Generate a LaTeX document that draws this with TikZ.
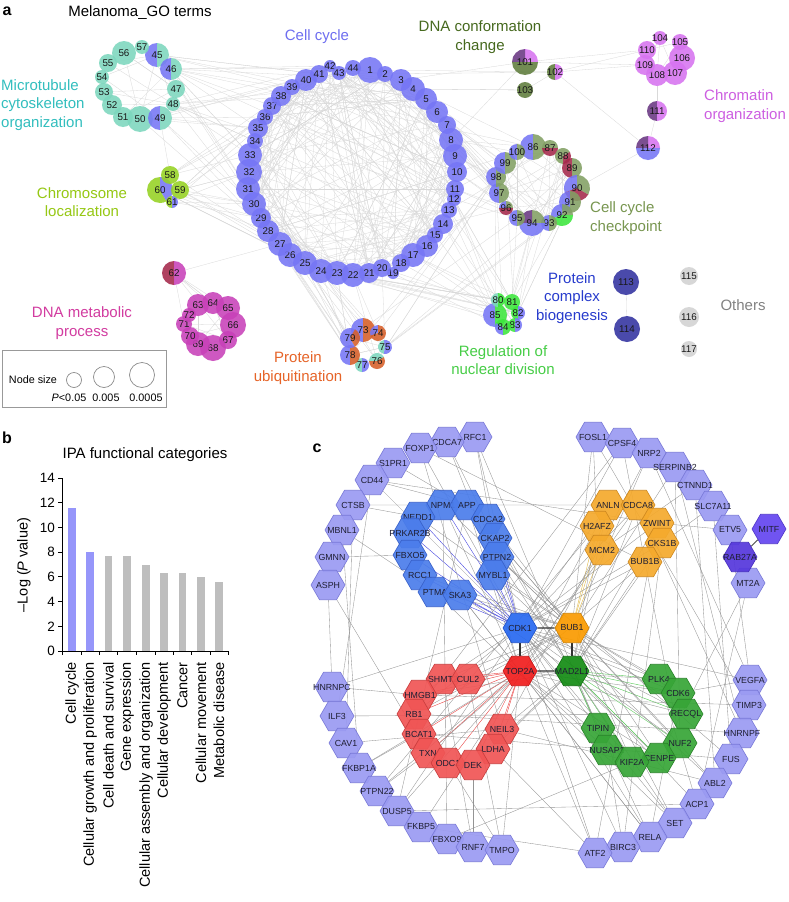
\documentclass[tikz,border=0pt]{standalone}
\usepackage{fontspec}
\setmainfont{Liberation Sans}
\usetikzlibrary{shapes.geometric}
\pgfdeclarelayer{bgw}
\pgfdeclarelayer{bg}
\pgfsetlayers{bgw,bg,main}
\definecolor{ccb}{RGB}{118,118,245}
\definecolor{tea}{RGB}{125,215,190}
\definecolor{lim}{RGB}{150,210,35}
\definecolor{dred}{RGB}{165,40,75}
\definecolor{mag}{RGB}{200,65,185}
\definecolor{dgr}{RGB}{95,125,60}
\definecolor{pnk}{RGB}{215,115,240}
\definecolor{dpu}{RGB}{105,55,130}
\definecolor{olv}{RGB}{130,160,100}
\definecolor{bgr}{RGB}{60,230,60}
\definecolor{org}{RGB}{215,95,40}
\definecolor{dbl}{RGB}{50,50,160}
\definecolor{gry}{RGB}{210,210,210}
\definecolor{Lccb}{RGB}{110,110,240}
\definecolor{Ltea}{RGB}{50,190,190}
\definecolor{Llim}{RGB}{150,200,20}
\definecolor{Lmag}{RGB}{210,60,160}
\definecolor{Ldgr}{RGB}{70,105,30}
\definecolor{Lpnk}{RGB}{205,95,225}
\definecolor{Lolv}{RGB}{120,150,80}
\definecolor{Lbgr}{RGB}{70,205,70}
\definecolor{Lorg}{RGB}{230,100,40}
\definecolor{Ldbl}{RGB}{40,60,205}
\definecolor{Lgry}{RGB}{130,130,130}
\definecolor{hOut}{RGB}{155,155,242}
\definecolor{hOutD}{RGB}{120,120,215}
\definecolor{hBlu}{RGB}{75,125,235}
\definecolor{hBluD}{RGB}{55,95,200}
\definecolor{hOra}{RGB}{245,170,45}
\definecolor{hOraD}{RGB}{205,135,30}
\definecolor{hRed}{RGB}{240,85,85}
\definecolor{hRedD}{RGB}{200,60,60}
\definecolor{hGrn}{RGB}{55,165,55}
\definecolor{hGrnD}{RGB}{40,130,40}
\definecolor{barB}{RGB}{150,150,250}
\definecolor{barG}{RGB}{190,190,190}
\tikzset{
 gnum/.style={circle,inner sep=0pt,font=\fontsize{9.8}{10}\selectfont,text=black!90},
 lab/.style={font=\fontsize{15}{18.5}\selectfont,align=center,inner sep=0pt},
 ge/.style={draw=black!15,line width=0.3pt},
 hex/.style={regular polygon,regular polygon sides=6,minimum size=34pt,inner sep=0pt,font=\fontsize{8.8}{9}\selectfont,text={rgb,255:red,30;green,30;blue,50},fill opacity=0.92,text opacity=1,line width=0.6pt},
 hout/.style={hex,fill=hOut,draw=hOutD},
 hblu/.style={hex,fill=hBlu,draw=hBluD},
 hora/.style={hex,fill=hOra,draw=hOraD},
 hred/.style={hex,fill=hRed,draw=hRedD},
 hgrn/.style={hex,fill=hGrn,draw=hGrnD},
 ce/.style={draw=black!42,line width=0.35pt},
 ceb/.style={draw={rgb,255:red,70;green,70;blue,225},line width=0.4pt},
 ceo/.style={draw={rgb,255:red,225;green,185;blue,70},line width=0.4pt},
 cer/.style={draw={rgb,255:red,235;green,70;blue,70},line width=0.4pt},
 ceg/.style={draw={rgb,255:red,80;green,200;blue,80},line width=0.4pt},
 hub/.style={draw=black!80,line width=1.1pt},
 panel/.style={font=\bfseries\fontsize{16}{16}\selectfont,inner sep=0pt},
}
\newcommand\hl[1]{\makebox[0pt][c]{#1}}
\newcommand\gn[5]{%
 \foreach \a/\b/\c in {#5}{\fill[\c,fill opacity=.88] (#2,#3) -- ++(\a:#4pt) arc[start angle=\a,end angle=\b,radius=#4pt] -- cycle;}%
 \node[gnum,minimum size=2*#4pt] (n#1) at (#2,#3) {\hl{#1}};}
\newcommand\cn[4]{\gn{#1}{#2}{#3}{#4}{0/360/ccb}}
\newcommand\rndedges[5]{\foreach \k in {1,...,#1}{\pgfmathtruncatemacro{\p}{random(#2,#3)}\pgfmathtruncatemacro{\q}{random(#4,#5)}\draw[ge] (n\p) -- (n\q);}}
\newcommand\ringedges[3]{\foreach \k in {1,...,#1}{\pgfmathtruncatemacro{\p}{random(0,#3-1)}\pgfmathtruncatemacro{\d}{random(2,#3-2)}\pgfmathtruncatemacro{\u}{#2+\p}\pgfmathtruncatemacro{\v}{#2+mod(\p+\d,#3)}\draw[ge] (n\u) -- (n\v);}}
\begin{document}
\begin{tikzpicture}[x=1pt,y=-1pt]
\useasboundingbox (0,0) rectangle (788,902);
\begin{pgfonlayer}{bgw}
\fill[white] (0,0) rectangle (788,902);
\end{pgfonlayer}
% ---------------- panel a ----------------
\node[panel] (pa) at (7,11) {a};
\node[lab] (ttl) at (140,13) {Melanoma\_GO terms};
% cell cycle ring
\cn{1}{370}{70}{13}\cn{2}{385}{74}{8}\cn{3}{401}{80}{11}\cn{4}{413}{89}{12}
\cn{5}{426}{99}{11}\cn{6}{437}{112}{11}\cn{7}{447}{125}{9}\cn{8}{451}{140}{12}
\cn{9}{455}{156}{12}\cn{10}{457}{172}{10}\cn{11}{455}{189}{9}\cn{12}{454}{199}{7}
\cn{13}{449}{210}{8}\cn{14}{443}{224}{10}\cn{15}{435}{235}{8}\cn{16}{427}{246}{11}
\cn{17}{413}{255}{12}\cn{18}{401}{263}{9}\cn{19}{393}{273}{6}\cn{20}{382}{268}{9}
\cn{21}{369}{273}{10}\cn{22}{353}{275}{12}\cn{23}{337}{273}{12}\cn{24}{321}{271}{12}
\cn{25}{305}{263}{12}\cn{26}{290}{255}{12}\cn{27}{280}{244}{12}\cn{28}{268}{231}{11}
\cn{29}{261}{218}{10}\cn{30}{254}{204}{12}\cn{31}{248}{189}{12}\cn{32}{249}{172}{13}
\cn{33}{250}{155}{12}\cn{34}{255}{141}{8}\cn{35}{258}{128}{10}\cn{36}{265}{117}{8}
\cn{37}{272}{106}{9}\cn{38}{281}{96}{10}\cn{39}{292}{87}{8}\cn{40}{306}{80}{11}
\cn{41}{319}{74}{9}\cn{42}{330}{66}{6}\cn{43}{339}{73}{7}\cn{44}{353}{68}{8}
% microtubule
\gn{45}{157}{55}{12}{90/270/ccb,270/450/tea}
\gn{46}{171}{69}{11}{90/270/ccb,270/450/tea}
\gn{47}{176}{89}{9}{0/360/tea}
\gn{48}{173}{104}{7}{0/360/tea}
\gn{50}{140}{119}{13}{0/360/tea}
\gn{49}{160}{118}{12}{90/270/ccb,270/450/tea}
\gn{51}{123}{117}{10}{0/360/tea}
\gn{52}{112}{105}{10}{0/360/tea}
\gn{53}{104}{92}{9}{0/360/tea}
\gn{54}{102}{77}{7}{0/360/tea}
\gn{55}{108}{63}{9}{0/360/tea}
\gn{56}{124}{53}{12}{0/360/tea}
\gn{57}{142}{47}{7}{0/360/tea}
% chromosome
\gn{60}{160}{190}{13}{90/300/lim,300/450/ccb}
\gn{58}{170}{175}{9}{0/360/lim}
\gn{59}{180}{190}{9}{0/360/lim}
\gn{61}{172}{202}{6}{90/270/lim,270/450/ccb}
% DNA metabolic
\gn{62}{174}{273}{12}{90/270/dred,270/450/mag}
\gn{63}{198}{305}{11}{0/360/mag}\gn{64}{213}{303}{11}{0/360/mag}
\gn{65}{228}{308}{12}{0/360/mag}\gn{66}{233}{325}{13}{0/360/mag}
\gn{67}{228}{340}{9}{0/360/mag}\gn{68}{213}{348}{13}{0/360/mag}
\gn{69}{198}{344}{12}{0/360/mag}\gn{70}{190}{336}{9}{0/360/mag}
\gn{71}{184}{324}{8}{0/360/mag}\gn{72}{189}{315}{7}{0/360/mag}
% ubiquitination
\gn{73}{363}{330}{12}{90/270/ccb,270/450/org}
\gn{74}{378}{333}{8}{90/200/ccb,200/450/org}
\gn{75}{385}{347}{7}{100/260/tea,260/460/ccb}
\gn{76}{377}{361}{8}{30/180/tea,180/390/org}
\gn{77}{362}{365}{7}{90/270/tea,270/450/ccb}
\gn{78}{350}{355}{10}{90/270/ccb,270/450/org}
\gn{79}{350}{338}{10}{60/300/ccb,300/420/org}
% nuclear division
\gn{85}{495}{315}{12}{90/270/ccb,270/450/bgr}
\gn{80}{498}{300}{7}{90/270/tea,270/450/bgr}
\gn{81}{512}{302}{8}{0/360/bgr}
\gn{82}{518}{313}{7}{90/270/bgr,270/450/ccb}
\gn{83}{515}{325}{7}{90/270/bgr,270/450/ccb}
\gn{84}{503}{327}{8}{150/270/ccb,270/510/bgr}
% checkpoint
\gn{86}{533}{147}{13}{90/270/ccb,270/450/olv}
\gn{87}{550}{148}{8}{0/180/olv,180/360/dred}
\gn{88}{563}{156}{8}{30/270/olv,270/390/dred}
\gn{89}{572}{168}{10}{90/270/dred,270/450/olv}
\gn{90}{577}{188}{13}{90/200/ccb,200/330/dred,330/450/olv}
\gn{91}{570}{202}{11}{90/270/ccb,270/450/olv}
\gn{92}{562}{215}{11}{0/90/olv,90/200/ccb,200/360/bgr}
\gn{93}{549}{223}{8}{90/270/ccb,270/450/olv}
\gn{94}{532}{223}{13}{0/90/olv,90/180/dpu,180/360/ccb}
\gn{95}{517}{218}{8}{90/270/ccb,270/450/olv}
\gn{96}{506}{208}{7}{0/90/olv,90/180/ccb,180/360/dred}
\gn{97}{499}{193}{10}{90/270/ccb,270/450/olv}
\gn{98}{496}{177}{10}{90/270/ccb,270/450/olv}
\gn{99}{505}{163}{11}{90/270/ccb,270/450/olv}
\gn{100}{517}{152}{8}{90/270/ccb,270/450/olv}
% DNA conformation, chromatin
\gn{101}{525}{62}{13}{0/90/pnk,90/180/dpu,180/360/dgr}
\gn{102}{555}{72}{8}{90/270/dgr,270/450/pnk}
\gn{103}{525}{90}{8}{0/360/dgr}
\gn{104}{660}{38}{7}{0/360/pnk}
\gn{105}{680}{42}{8}{0/360/pnk}
\gn{106}{682}{58}{13}{0/360/pnk}
\gn{107}{675}{73}{12}{0/360/pnk}
\gn{108}{657}{75}{11}{0/360/pnk}
\gn{109}{645}{65}{10}{0/360/pnk}
\gn{110}{647}{50}{9}{0/360/pnk}
\gn{111}{657}{111}{10}{90/270/dpu,270/450/pnk}
\gn{112}{648}{148}{12}{0/90/pnk,90/180/dpu,180/360/ccb}
\gn{113}{626}{282}{13}{0/360/dbl}
\gn{114}{627}{329}{13}{0/360/dbl}
\gn{115}{689}{276}{9}{0/360/gry}
\gn{116}{689}{317}{10}{0/360/gry}
\gn{117}{689}{349}{8}{0/360/gry}
% cluster labels
\node[lab,text=Lccb] (Lcc) at (317,37) {Cell cycle};
\node[lab,text=Ldgr] (Ldna) at (480,37) {DNA conformation\\change};
\node[lab,text=Lpnk,align=left,anchor=west] (Lchr) at (704,106) {Chromatin\\organization};
\node[lab,text=Ltea,align=left,anchor=west] (Lmt) at (1,105) {Microtubule\\cytoskeleton\\organization};
\node[lab,text=Llim] (Lcl) at (82,202) {Chromosome\\localization};
\node[lab,text=Lmag] (Lmet) at (82,323) {DNA metabolic\\process};
\node[lab,text=Lolv,align=left,anchor=west] (Lck) at (590,218) {Cell cycle\\checkpoint};
\node[lab,text=Lorg] (Lub) at (298,368) {Protein\\ubiquitination};
\node[lab,text=Lbgr] (Lnd) at (503,360) {Regulation of\\nuclear division};
\node[lab,text=Ldbl] (Lpc) at (572,298) {Protein\\complex\\biogenesis};
\node[lab,text=Lgry] (Loth) at (743,305) {Others};
% legend
\draw[black!40,line width=.9pt] (2,350) rectangle (166,407);
\node[font=\fontsize{10.8}{11}\selectfont] (ns) at (33,380) {Node size};
\node[circle,draw=black!45,line width=.7pt,minimum size=15pt,inner sep=0pt] (s1) at (74,380) {};
\node[circle,draw=black!45,line width=.7pt,minimum size=21pt,inner sep=0pt] (s2) at (104,377) {};
\node[circle,draw=black!45,line width=.7pt,minimum size=25pt,inner sep=0pt] (s3) at (142,375) {};
\node[font=\fontsize{10.8}{11}\selectfont] (p1) at (69,398) {\textit{P}<0.05};
\node[font=\fontsize{10.8}{11}\selectfont] (p2) at (106,398) {0.005};
\node[font=\fontsize{10.8}{11}\selectfont] (p3) at (146,398) {0.0005};
% panel a edges
\begin{pgfonlayer}{bg}
\pgfmathsetseed{11}
\ringedges{240}{1}{44}
\ringedges{18}{45}{13}
\ringedges{35}{86}{15}
\ringedges{12}{63}{10}
\ringedges{8}{104}{7}
\ringedges{6}{73}{7}
\ringedges{6}{80}{6}
\rndedges{25}{26}{44}{45}{50}
\rndedges{8}{45}{48}{1}{12}
\rndedges{22}{25}{40}{58}{61}
\rndedges{30}{1}{17}{86}{100}
\rndedges{25}{12}{26}{80}{85}
\rndedges{22}{20}{33}{73}{79}
\rndedges{12}{86}{100}{80}{85}
\rndedges{8}{90}{100}{73}{79}
\rndedges{6}{1}{8}{101}{103}
\rndedges{6}{62}{62}{63}{72}
\foreach \s/\t in {49/58,62/27,101/110,101/109,102/110,102/109,103/102,102/112,108/111,111/112,112/90,113/114,60/30,46/86}
 \draw[ge] (n\s) -- (n\t);
\end{pgfonlayer}
% ---------------- panel b ----------------
\node[panel] (pb) at (7,438) {b};
\node[lab] (tb) at (145,455) {IPA functional categories};
\foreach \x/\h/\c in {72/11.55/barB,90/8.0/barB,108.5/7.65/barG,127/7.65/barG,146/6.95/barG,164/6.35/barG,182.5/6.35/barG,201/6.0/barG,219/5.6/barG}
 \fill[\c] ({\x-3.7},651) rectangle ({\x+3.7},{651-\h*12.357});
\draw[line width=.8pt] (62,478) -- (62,651) -- (228.5,651);
\foreach \v in {0,2,...,14}{
 \draw[line width=.8pt] (58,{651-\v*12.357}) -- (62,{651-\v*12.357});
 \node[anchor=east,inner sep=0pt,font=\fontsize{13.5}{14}\selectfont] (yt\v) at (55,{651-\v*12.357}) {\v};}
\foreach \x in {62.7,81,99.3,117.7,136.7,155,173.3,191.7,210,228.3}
 \draw[line width=.8pt] (\x,651) -- (\x,655);
\foreach \x/\t [count=\i] in {72/Cell cycle,90/Cellular growth and proliferation,108.5/Cell death and survival,127/Gene expression,146/Cellular assembly and organization,164/Cellular development,182.5/Cancer,201/Cellular movement,219/Metabolic disease}
 \node[rotate=90,anchor=east,inner sep=0pt,font=\fontsize{14.5}{15}\selectfont] (xl\i) at (\x,662) {\t};
\node[rotate=90,inner sep=0pt,font=\fontsize{14.5}{15}\selectfont] (ylab) at (24,565) {–Log (\textit{P} value)};
% ---------------- panel c ----------------
\node[panel] (pc) at (317,448) {c};
\foreach \n/\x/\y in {RFC1/475/437,CDCA7/447/442,FOXP1/420/448,S1PR1/393/463,CD44/372/480,CTSB/353/505,MBNL1/342/530,GMNN/332/557,ASPH/328/585,
 FOSL1/593/437,CPSF4/622/443,NRP2/649/453,SERPINB2/675/467,CTNND1/695/485,SLC7A11/713/506,ETV5/730/530,MT2A/748/583,
 HNRNPC/332/687,ILF3/337/716,CAV1/346/743,FKBP1A/359/768,PTPN22/377/791,DUSP5/397/811,FKBP5/421/827,FBXO9/447/839,RNF7/473/847,TMPO/502/850,
 VEGFA/750/680,TIMP3/749/705,HNRNPF/742/733,FUS/731/759,ABL2/715/783,ACP1/697/804,SET/675/823,RELA/650/837,BIRC3/623/847,ATF2/595/853}
 \node[hout] (\n) at (\x,\y) {\hl{\n}};
\node[hex,fill={rgb,255:red,100;green,70;blue,240},draw={rgb,255:red,80;green,55;blue,200}] (MITF) at (769,529) {\hl{MITF}};
\node[hex,fill={rgb,255:red,85;green,55;blue,220},draw={rgb,255:red,70;green,45;blue,190}] (RAB27A) at (740,557) {\hl{RAB27A}};
\foreach \n/\x/\y in {NPM1/443/505,APP/467/505,NEDD1/418/517,CDCA2/488/519,PRKAR2B/410/533,CKAP2/495/538,FBXO5/410/555,PTPN2/497/557,RCC1/420/575,MYBL1/493/575,PTMA/435/592,SKA3/460/595}
 \node[hblu] (\n) at (\x,\y) {\hl{\n}};
\foreach \n/\x/\y in {ANLN/608/505,CDCA8/638/505,H2AFZ/597/526,ZWINT/657/523,MCM2/602/550,CKS1B/662/543,BUB1B/645/562}
 \node[hora] (\n) at (\x,\y) {\hl{\n}};
\foreach \n/\x/\y in {SHMT2/443/679,CUL2/468/679,HMGB1/420/695,RB1/414/714,BCAT1/419/734,NEIL3/502/729,TXN/428/753,LDHA/493/749,ODC1/448/763,DEK/473/765}
 \node[hred] (\n) at (\x,\y) {\hl{\n}};
\foreach \n/\x/\y in {PLK4/659/679,CDK6/678/693,RECQL/686/714,TIPIN/598/728,NUF2/680/743,NUSAP1/607/750,CENPE/659/758,KIF2A/632/762}
 \node[hgrn] (\n) at (\x,\y) {\hl{\n}};
\node[hex,fill={rgb,255:red,40;green,105;blue,240},draw={rgb,255:red,30;green,80;blue,200}] (CDK1) at (520,628) {\hl{CDK1}};
\node[hex,fill={rgb,255:red,250;green,155;blue,0},draw={rgb,255:red,210;green,130;blue,0}] (BUB1) at (572,628) {\hl{BUB1}};
\node[hex,fill={rgb,255:red,240;green,30;blue,30},draw={rgb,255:red,200;green,20;blue,20}] (TOP2A) at (520,671) {\hl{TOP2A}};
\node[hex,fill={rgb,255:red,20;green,140;blue,20},draw={rgb,255:red,15;green,110;blue,15}] (MAD2L1) at (572,671) {\hl{MAD2L1}};
\begin{pgfonlayer}{bg}
\foreach \t in {SKA3,PTMA,RCC1,FBXO5,PRKAR2B,NEDD1,NPM1,MYBL1,PTPN2,CKAP2} \draw[ceb] (CDK1) -- (\t);
\foreach \t in {MCM2,H2AFZ,ANLN} \draw[ceo] (BUB1) -- (\t);
\foreach \t in {SHMT2,CUL2,HMGB1,RB1,BCAT1,TXN,ODC1,DEK,LDHA,NEIL3} \draw[cer] (TOP2A) -- (\t);
\foreach \t in {PLK4,CDK6,RECQL,NUF2,CENPE,KIF2A,NUSAP1,TIPIN} \draw[ceg] (MAD2L1) -- (\t);
\foreach \t in {ANLN,CDCA8,ZWINT,CKS1B,BUB1B,PLK4,CDK6,RECQL,NUF2,CENPE,KIF2A,TIPIN,HMGB1,RB1,CDCA7,RFC1,FOXP1,CPSF4,VEGFA,ATF2,RELA,BIRC3,CD44,HNRNPC,DUSP5} \draw[ce] (CDK1) -- (\t);
\foreach \t in {NPM1,APP,NEDD1,CDCA2,CKAP2,PTPN2,MYBL1,SKA3,PTMA,RCC1,PLK4,CDK6,NUF2,CENPE,KIF2A,RECQL,SHMT2,CUL2,RB1,TXN,FOSL1,NRP2,SERPINB2,ABL2,SET} \draw[ce] (BUB1) -- (\t);
\foreach \t in {NPM1,APP,MYBL1,SKA3,ANLN,CDCA8,BUB1B,PLK4,CDK6,RECQL,NUSAP1,KIF2A,CENPE,DUSP5,FKBP1A,PTPN22,TMPO,RELA,ATF2} \draw[ce] (TOP2A) -- (\t);
\foreach \t in {CDCA8,ZWINT,CKS1B,BUB1B,ANLN,H2AFZ,PTPN2,CKAP2,CDCA2,SKA3,DEK,LDHA,NEIL3,HMGB1,SET,ACP1,RELA} \draw[ce] (MAD2L1) -- (\t);
\foreach \s/\t in {CTSB/NEDD1,GMNN/FBXO5,MBNL1/PTMA,CD44/APP,S1PR1/CDCA2,CDCA7/CKAP2,RFC1/TIPIN,FOXP1/BUB1B,FOSL1/H2AFZ,CPSF4/RB1,NRP2/VEGFA,SERPINB2/NUF2,CTNND1/MCM2,SLC7A11/CKS1B,ETV5/ZWINT,MT2A/CENPE,CDCA8/HNRNPF,HNRNPC/HMGB1,ILF3/RECQL,CAV1/NEIL3,FKBP1A/BCAT1,PTPN22/TXN,DUSP5/ACP1,FKBP5/ATF2,FBXO9/KIF2A,RNF7/DEK,TMPO/ODC1,ATF2/LDHA,BIRC3/NUSAP1,RELA/CDK6,SET/TIPIN,ACP1/PLK4,ABL2/NEIL3,FUS/BCAT1,HNRNPF/RB1,TIMP3/HMGB1,VEGFA/CDK6,ASPH/HNRNPC,ASPH/TXN,ILF3/CD44,CTSB/CAV1,MBNL1/FKBP1A,CUL2/TMPO,SHMT2/RNF7,NPM1/FBXO9,APP/DUSP5,PTPN2/FUS,MYBL1/ABL2,SKA3/RELA,PTMA/SET,CKS1B/BIRC3,ZWINT/ATF2,MCM2/FKBP5,H2AFZ/PTPN22,NRP2/LDHA,CPSF4/NUF2,FOSL1/TIMP3,SERPINB2/HNRNPF,CTNND1/ABL2,SLC7A11/FUS,ETV5/VEGFA,MT2A/ACP1,ANLN/CTSB,RFC1/PTPN2,FOXP1/NEIL3,CD44/ZWINT}
 \draw[ce] (\s) -- (\t);
\draw[hub,draw=black!70,line width=.9pt] (MITF) -- (RAB27A);
\draw[hub] (CDK1) -- (BUB1);
\draw[hub] (CDK1) -- (TOP2A);
\draw[hub] (BUB1) -- (MAD2L1);
\draw[hub] (TOP2A) -- (MAD2L1);
\end{pgfonlayer}
\end{tikzpicture}
\end{document}
